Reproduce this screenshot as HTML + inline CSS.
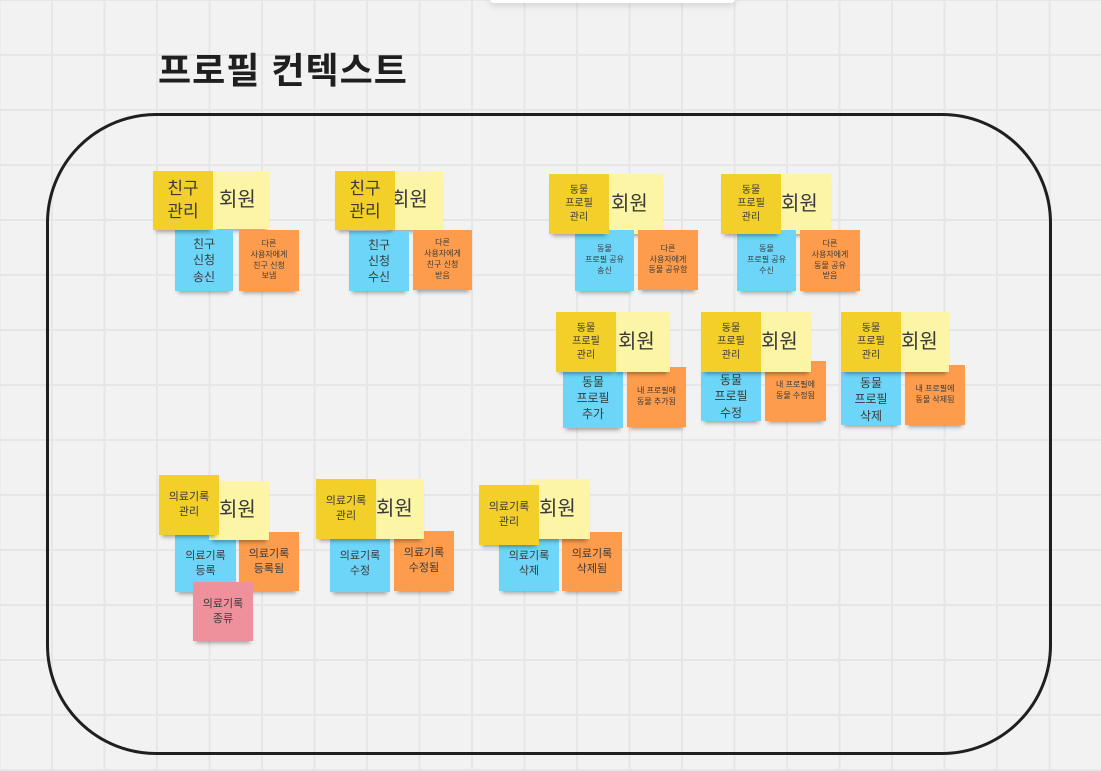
<!DOCTYPE html>
<html><head><meta charset="utf-8"><style>
body{margin:0;width:1101px;height:771px;overflow:hidden;position:relative;background:#f2f2f2;font-family:"Liberation Sans","Noto Sans CJK KR",sans-serif;
background-image:linear-gradient(to right,#e6e6e6 2px,transparent 2px),linear-gradient(to bottom,#e6e6e6 2px,transparent 2px);
background-size:52.5px 55px;background-position:51px 54px;}
.n{position:absolute;display:flex;align-items:center;justify-content:center;text-align:center;color:#3a3a3a;line-height:1.35;box-shadow:0 5px 4px -3px rgba(0,0,0,0.35);box-sizing:border-box}
.d{background:#f3cf2a;font-size:17px}
.l{background:#fdf5a6;font-size:20px;justify-content:flex-start;padding-left:6px}
.b{background:#6dd5f8;font-size:12px}
.o{background:#fc9c4c;font-size:8px}
.p{background:#ef919d;font-size:11px}
.s{font-size:10px}
</style></head><body>
<div style="position:absolute;left:490px;top:-6px;width:245px;height:9px;background:#fff;border-radius:4px;box-shadow:0 2px 8px rgba(0,0,0,0.15)"></div>
<div style="position:absolute;left:158px;top:42px;font-size:36px;font-weight:bold;color:#1f1f1f;letter-spacing:1px">프로필 컨텍스트</div>
<div style="position:absolute;left:46px;top:113px;width:1006px;height:642px;border:3.5px solid #1f1f1f;border-radius:110px;box-sizing:border-box"></div>

<div class="n l" style="left:213px;top:171px;width:56px;height:58px">회원</div>
<div class="n b" style="left:175px;top:230px;width:58px;height:61px">친구<br>신청<br>송신</div>
<div class="n o" style="left:239px;top:230px;width:60px;height:61px">다른<br>사용자에게<br>친구 신청<br>보냄</div>
<div class="n d" style="left:153px;top:171px;width:60px;height:59px">친구<br>관리</div>

<div class="n l" style="left:385px;top:171px;width:58px;height:59px">회원</div>
<div class="n b" style="left:349px;top:231px;width:60px;height:60px">친구<br>신청<br>수신</div>
<div class="n o" style="left:413px;top:230px;width:59px;height:60px">다른<br>사용자에게<br>친구 신청<br>받음</div>
<div class="n d" style="left:335px;top:171px;width:60px;height:59px">친구<br>관리</div>

<div class="n l" style="left:605px;top:174px;width:58px;height:60px">회원</div>
<div class="n b" style="left:575px;top:230px;width:59px;height:61px;font-size:8px">동물<br>프로필 공유<br>송신</div>
<div class="n o" style="left:638px;top:230px;width:60px;height:60px">다른<br>사용자에게<br>동물 공유함</div>
<div class="n d s" style="left:549px;top:174px;width:60px;height:60px">동물<br>프로필<br>관리</div>

<div class="n l" style="left:775px;top:174px;width:56px;height:60px">회원</div>
<div class="n b" style="left:737px;top:230px;width:59px;height:61px;font-size:8px">동물<br>프로필 공유<br>수신</div>
<div class="n o" style="left:800px;top:230px;width:60px;height:61px">다른<br>사용자에게<br>동물 공유<br>받음</div>
<div class="n d s" style="left:721px;top:174px;width:60px;height:60px">동물<br>프로필<br>관리</div>

<div class="n b" style="left:563px;top:368px;width:60px;height:60px">동물<br>프로필<br>추가</div>
<div class="n o" style="left:627px;top:367px;width:59px;height:60px">내 프로필에<br>동물 추가됨</div>
<div class="n l" style="left:612px;top:312px;width:58px;height:60px">회원</div>
<div class="n d s" style="left:556px;top:312px;width:60px;height:60px">동물<br>프로필<br>관리</div>

<div class="n b" style="left:701px;top:362px;width:60px;height:59px;padding-top:10px">동물<br>프로필<br>수정</div>
<div class="n o" style="left:765px;top:361px;width:61px;height:60px">내 프로필에<br>동물 수정됨</div>
<div class="n l" style="left:755px;top:312px;width:56px;height:60px">회원</div>
<div class="n d s" style="left:701px;top:312px;width:60px;height:60px">동물<br>프로필<br>관리</div>

<div class="n b" style="left:841px;top:364px;width:60px;height:61px;padding-top:10px">동물<br>프로필<br>삭제</div>
<div class="n o" style="left:905px;top:365px;width:60px;height:60px">내 프로필에<br>동물 삭제됨</div>
<div class="n l" style="left:895px;top:312px;width:54px;height:60px">회원</div>
<div class="n d s" style="left:841px;top:312px;width:60px;height:60px">동물<br>프로필<br>관리</div>

<div class="n b" style="left:175px;top:535px;width:61px;height:57px;font-size:11px">의료기록<br>등록</div>
<div class="n o" style="left:239px;top:532px;width:60px;height:59px;font-size:11px">의료기록<br>등록됨</div>
<div class="n p" style="left:193px;top:582px;width:60px;height:59px">의료기록<br>종류</div>
<div class="n l" style="left:209px;top:481px;width:60px;height:59px;padding-left:10px">회원</div>
<div class="n d s" style="left:159px;top:475px;width:60px;height:60px;font-size:11px">의료기록<br>관리</div>

<div class="n b" style="left:330px;top:536px;width:60px;height:56px;font-size:11px">의료기록<br>수정</div>
<div class="n o" style="left:394px;top:531px;width:60px;height:60px;font-size:11px">의료기록<br>수정됨</div>
<div class="n l" style="left:370px;top:479px;width:54px;height:60px">회원</div>
<div class="n d s" style="left:316px;top:479px;width:60px;height:60px;font-size:11px">의료기록<br>관리</div>

<div class="n b" style="left:499px;top:536px;width:60px;height:55px;font-size:11px">의료기록<br>삭제</div>
<div class="n o" style="left:562px;top:532px;width:60px;height:59px;font-size:11px">의료기록<br>삭제됨</div>
<div class="n l" style="left:530px;top:479px;width:60px;height:60px;padding-left:9px">회원</div>
<div class="n d s" style="left:479px;top:485px;width:60px;height:60px;font-size:11px">의료기록<br>관리</div>
</body></html>
